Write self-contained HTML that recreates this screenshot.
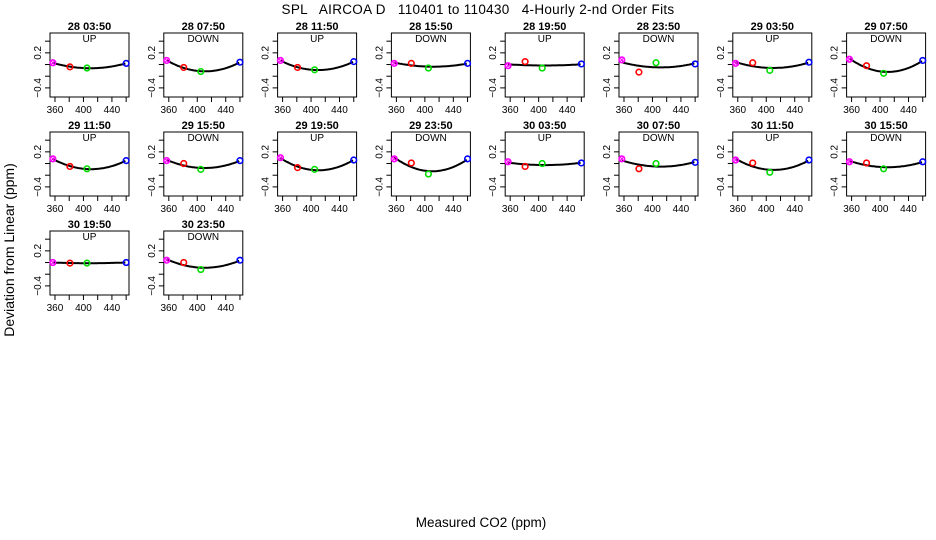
<!DOCTYPE html>
<html><head><meta charset="utf-8"><style>
html,body{margin:0;padding:0;background:#fff;}
svg{display:block;font-family:"Liberation Sans",sans-serif;}
</style></head><body>
<svg id="chart" width="936" height="540" viewBox="0 0 936 540" xmlns="http://www.w3.org/2000/svg">
<text x="478" y="14" font-size="13.5" letter-spacing="0.3" text-anchor="middle" fill="#000" xml:space="preserve">SPL   AIRCOA D   110401 to 110430   4-Hourly 2-nd Order Fits</text>
<text x="481" y="527" font-size="13.5" text-anchor="middle" fill="#000">Measured CO2 (ppm)</text>
<text transform="translate(14,250) rotate(-90)" font-size="14" text-anchor="middle" fill="#000">Deviation from Linear (ppm)</text>
<g id="panels"></g>
</svg>
<script>
const panelTitles = ["28 03:50","28 07:50","28 11:50","28 15:50","28 19:50","28 23:50","29 03:50","29 07:50","29 11:50","29 15:50","29 19:50","29 23:50","30 03:50","30 07:50","30 11:50","30 15:50","30 19:50","30 23:50"];
const panelModes = ["UP","DOWN","UP","DOWN","UP","DOWN","UP","DOWN","UP","DOWN","UP","DOWN","UP","DOWN","UP","DOWN","UP","DOWN"];
const pointCO2 = [357, 381, 405, 460];
const pointColors = ["#ff00ff","#ff0000","#00dd00","#0000ff"];
const deviations = [
 [0.03,-0.04,-0.06,0.02],
 [0.07,-0.05,-0.12,0.04],
 [0.07,-0.05,-0.09,0.05],
 [0.02,0.02,-0.06,0.02],
 [-0.02,0.05,-0.06,0.01],
 [0.08,-0.13,0.03,0.01],
 [0.02,0.03,-0.10,0.04],
 [0.09,-0.02,-0.15,0.07],
 [0.08,-0.05,-0.09,0.05],
 [0.05,0.00,-0.10,0.05],
 [0.10,-0.07,-0.10,0.06],
 [0.08,0.01,-0.18,0.08],
 [0.03,-0.05,0.00,0.01],
 [0.08,-0.09,0.00,0.02],
 [0.06,0.01,-0.15,0.06],
 [0.03,0.01,-0.09,0.03],
 [0.00,-0.01,-0.01,0.00],
 [0.04,0.00,-0.12,0.04]
];
const yTicks = [0.4,0.2,0,-0.2,-0.4];
const yTickLabels = ["0.2","-0.4"];
const xTicks = [360,380,400,420,440,460];
const xTickLabels = [360,400,440];

const NS="http://www.w3.org/2000/svg";
const root=document.getElementById('panels');
const W=79,H=64,X0=50,Y0=33,DX=113.8,DY=99;
const XMIN=353,XMAX=464,YMIN=-0.556,YMAX=0.54;
function mk(tag,attrs,parent){const e=document.createElementNS(NS,tag);for(const k in attrs)e.setAttribute(k,attrs[k]);(parent||root).appendChild(e);return e;}
function fitQuad(xs,ys){
  const m=xs.reduce((s,v)=>s+v,0)/xs.length;
  const S=[[0,0,0],[0,0,0],[0,0,0]],R=[0,0,0];
  xs.forEach((x,i)=>{const t=(x-m)/50;const p=[1,t,t*t];for(let r=0;r<3;r++){R[r]+=p[r]*ys[i];for(let c=0;c<3;c++)S[r][c]+=p[r]*p[c];}});
  const A=S.map((r,i)=>[...r,R[i]]);
  for(let i=0;i<3;i++){let piv=i;for(let k=i+1;k<3;k++)if(Math.abs(A[k][i])>Math.abs(A[piv][i]))piv=k;[A[i],A[piv]]=[A[piv],A[i]];
    for(let k=0;k<3;k++){if(k===i)continue;const f=A[k][i]/A[i][i];for(let j=i;j<4;j++)A[k][j]-=f*A[i][j];}}
  const co=[A[0][3]/A[0][0],A[1][3]/A[1][1],A[2][3]/A[2][2]];
  return x=>{const t=(x-m)/50;return co[0]+co[1]*t+co[2]*t*t;};
}
panelTitles.forEach((title,i)=>{
  const col=i%8,row=Math.floor(i/8);
  const bx=X0+col*DX,by=Y0+row*DY;
  const sx=v=>bx+(v-XMIN)/(XMAX-XMIN)*W;
  const sy=v=>by+(YMAX-v)/(YMAX-YMIN)*H;
  const g=mk('g',{});
  
  
  const t=mk('text',{x:bx+W/2,y:by-3,'font-size':11,'font-weight':'bold','text-anchor':'middle'},g);t.textContent=title;
  
  const md=mk('text',{x:bx+W/2,y:by+9,'font-size':10,'text-anchor':'middle'},g);md.textContent=panelModes[i];
  
  const box=mk('rect',{x:bx,y:by,width:W,height:H,fill:'none',stroke:'#000','stroke-width':1},g);
  
  yTicks.forEach(v=>{mk('line',{x1:bx-5,x2:bx,y1:sy(v),y2:sy(v),stroke:'#000'},g);});
  yTickLabels.forEach(l=>{const v=parseFloat(l);const tt=mk('text',{transform:`translate(${bx-9},${sy(v)}) rotate(-90)`,'font-size':10,'text-anchor':'middle'},g);tt.textContent=l.replace('-','\u2212');
    });
  xTicks.forEach(v=>{mk('line',{x1:sx(v),x2:sx(v),y1:by+H,y2:by+H+5,stroke:'#000'},g);});
  xTickLabels.forEach(v=>{const tt=mk('text',{x:sx(v),y:by+H+16,'font-size':10,'text-anchor':'middle'},g);tt.textContent=v;
    });
  const f=fitQuad(pointCO2,deviations[i]);
  let d='';for(let x=pointCO2[0];x<=pointCO2[3]+0.01;x+=2){d+=(d?'L':'M')+sx(x).toFixed(1)+','+sy(f(x)).toFixed(1);}
  const fl=mk('path',{d:d,fill:'none',stroke:'#000','stroke-width':2},g);
  
  deviations[i].forEach((v,k)=>{
    const c=mk('circle',{cx:sx(pointCO2[k]),cy:sy(v),r:2.8,fill:'none',stroke:pointColors[k],'stroke-width':1.6},g);
    
    if(k===0){const px=sx(pointCO2[k]),py=sy(v);mk('path',{d:`M${px-2.5},${py-2.5}L${px+2.5},${py+2.5}M${px-2.5},${py+2.5}L${px+2.5},${py-2.5}`,stroke:'#ff00ff','stroke-width':1},g);}
  });
});
</script>
</body></html>
